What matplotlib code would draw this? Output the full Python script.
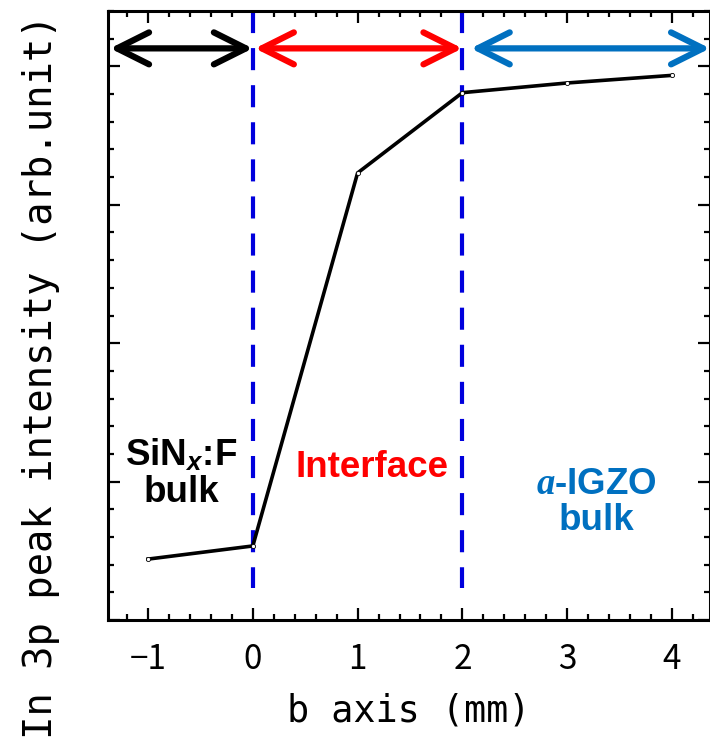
import numpy as np
import matplotlib.pyplot as plt
from matplotlib.patches import FancyArrowPatch
from matplotlib.ticker import MultipleLocator

plt.rcParams['mathtext.fontset'] = 'custom'
plt.rcParams['mathtext.bf'] = 'Liberation Sans:bold'
plt.rcParams['mathtext.sf'] = 'Liberation Sans:bold:italic'
plt.rcParams['mathtext.it'] = 'Liberation Serif:bold:italic'

jp = ['Noto Sans CJK JP', 'DejaVu Sans']
mono = ['DejaVu Sans Mono']

# position along b axis (mm) and In 3p peak intensity (arb. unit)
b_pos = [-1, 0, 1, 2, 3, 4]
intensity = [0.44, 0.535, 3.23, 3.81, 3.88, 3.935]

# region boundaries and labels
x_bounds = [0, 2]
region_labels = [r'$\mathbf{SiN}_{\mathsf{x}}$:F' + '\nbulk', 'Interface', r'$\mathit{a}$-IGZO' + '\nbulk']
region_colors = ['black', '#FF0000', '#0070C0']
region_text_pos = [(-0.68, 1.06), (1.14, 1.10), (3.28, 0.85)]

xmin, xmax = -1.382, 4.363
ymin, ymax = 0, 4.4
arrow_y = 4.13

fig = plt.figure(figsize=(7.1, 7.45), dpi=100)
ax = fig.add_axes([108/710, 125/745, 602/710, 609/745])

ax.plot(b_pos, intensity, color='black', lw=2.6, marker='o', ms=3,
        mfc='white', mec='black', mew=0.6, zorder=3)

# dashed boundaries, drawn top-down so the dash pattern starts at the frame
for xb in x_bounds:
    ax.plot([xb, xb], [ymax, 0.23], color='#0000DD', lw=3,
            linestyle=(0, (5.3, 3.6)), zorder=2)

# double arrows marking each region
arrow_ends = [(xmin + 0.02, x_bounds[0]), (x_bounds[0] + 0.02, x_bounds[1]),
              (x_bounds[1] + 0.08, xmax)]
for (x0, x1), c in zip(arrow_ends, region_colors):
    arr = FancyArrowPatch((x0, arrow_y), (x1, arrow_y),
                          arrowstyle='<->,head_length=2.3,head_width=1.15',
                          mutation_scale=10, lw=4.5, color=c,
                          shrinkA=0, shrinkB=0, capstyle='round',
                          joinstyle='round', clip_on=False, zorder=4)
    ax.add_patch(arr)

for txt, c, (tx, ty) in zip(region_labels, region_colors, region_text_pos):
    ax.text(tx, ty, txt, color=c, fontsize=26.5, fontweight='bold',
            family='Liberation Sans', ha='center', va='center',
            linespacing=1.05)

ax.set_xlim(xmin, xmax)
ax.set_ylim(ymin, ymax)
ax.xaxis.set_major_locator(MultipleLocator(1))
ax.xaxis.set_minor_locator(MultipleLocator(0.2))
ax.yaxis.set_major_locator(MultipleLocator(1))
ax.yaxis.set_minor_locator(MultipleLocator(0.2))
ax.tick_params(which='both', direction='in', top=True, right=True,
               width=1.6, labelleft=False)
ax.tick_params(which='major', length=8.5, pad=16)
ax.tick_params(which='minor', length=4.5)
for lab in ax.get_xticklabels():
    lab.set_family(jp)
    lab.set_fontsize(24)
for sp in ax.spines.values():
    sp.set_linewidth(2.2)

ax.set_xlabel('b axis (mm)', family=mono, fontsize=26.5, labelpad=11)
ax.set_ylabel('In 3p peak intensity (arb.unit)', family=mono, fontsize=28)
ax.yaxis.set_label_coords(-0.08, 0.40)

fig.savefig('out.png', dpi=100)
